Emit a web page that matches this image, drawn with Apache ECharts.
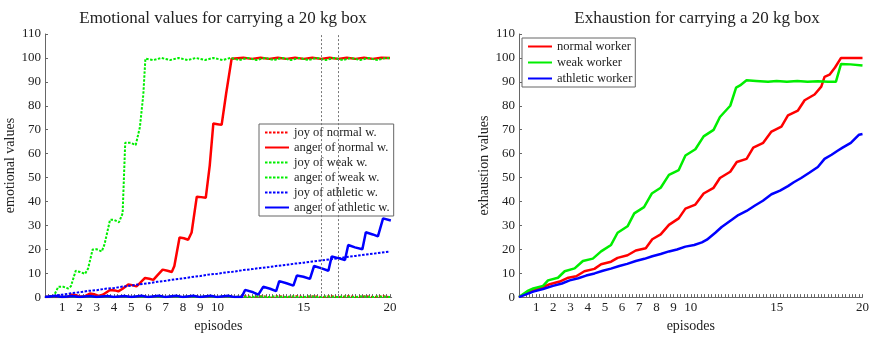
<!DOCTYPE html>
<html>
<head>
<meta charset="utf-8">
<script src="https://cdn.jsdelivr.net/npm/echarts@6/dist/echarts.min.js"></script>
<style>html,body{margin:0;padding:0;background:#fff}#c{width:872px;height:338px}</style>
</head>
<body>
<div id="c"></div>
<script>
// ---- tick labels ----
const xLabelValues = [1,2,3,4,5,6,7,8,9,10,15,20];
const yTickMax = 110;
const markEpisodes = [16, 17];

// ---- left chart: emotional values [episode, value] ----
const joyNormal = [[0,0],[0.6,0.4],[1,0],[1.6,0.4],[2,0],[2.6,0.4],[3,0],[3.6,0.4],[4,0],[4.6,0.4],[5,0],[5.6,0.4],[6,0],[6.6,0.4],[7,0],[7.6,0.4],[8,0],[8.6,0.4],[9,0],[9.6,0.4],[10,0],[10.6,0.4],[11,0],[11.6,0.4],[12,0],[12.6,0.4],[13,0],[13.6,0.4],[14,0],[14.6,0.4],[15,0],[15.6,0.4],[16,0],[16.6,0.4],[17,0],[17.6,0.4],[18,0],[18.6,0.4],[19,0],[19.6,0.4],[20,0]];
const angerNormal = [[0,0],[1.3,0],[1.55,1],[1.8,0.8],[2.0,0.2],[2.3,0.3],[2.6,1.5],[2.85,1.2],[3.1,0.5],[3.35,1],[3.77,3],[4.05,2.8],[4.25,2.4],[4.5,3.5],[4.83,5.3],[5.05,5],[5.3,4.5],[5.5,5.8],[5.8,8],[6.05,7.7],[6.28,7.2],[6.5,9],[6.82,11.5],[7.1,11],[7.35,10.5],[7.5,13],[7.8,24.9],[8.05,24.6],[8.3,24],[8.5,27],[8.8,42],[9.05,41.8],[9.32,41.5],[9.55,55],[9.76,72.6],[10.0,72.3],[10.24,72],[10.5,85],[10.82,99.7],[11.5,100.1],[12,99.6],[12.5,100.1],[13,99.6],[13.5,100.1],[14,99.6],[14.5,100.1],[15,99.6],[15.5,100.1],[16,99.6],[16.5,100.1],[17,99.6],[17.5,100.1],[18,99.6],[18.5,100.1],[19,99.6],[19.5,100.1],[20,100]];
const joyWeak = [[0,0],[0.3,0.3],[1,0],[1.3,0.3],[2,0],[2.3,0.3],[3,0],[3.3,0.3],[4,0],[4.3,0.3],[5,0],[5.3,0.3],[6,0],[6.3,0.3],[7,0],[7.3,0.3],[8,0],[8.3,0.3],[9,0],[9.3,0.3],[10,0],[10.3,0.3],[11,0],[11.3,0.3],[12,0],[12.3,0.3],[13,0],[13.3,0.3],[14,0],[14.3,0.3],[15,0],[15.3,0.3],[16,0],[16.3,0.3],[17,0],[17.3,0.3],[18,0],[18.3,0.3],[19,0],[19.3,0.3],[20,0]];
const angerWeak = [[0,0],[0.48,0],[0.77,4.3],[1.06,4.3],[1.35,3.6],[1.5,4.5],[1.78,11],[2.03,10.5],[2.32,9.7],[2.5,12],[2.76,19.9],[2.99,20],[3.29,19.1],[3.45,22],[3.77,32.3],[4.0,32.3],[4.29,31.3],[4.5,35],[4.65,64.5],[4.97,64.5],[5.26,63.6],[5.5,71],[5.7,84.7],[5.82,99.7],[6.28,99.1],[6.75,100],[7.25,99.1],[7.75,100],[8.27,99.1],[8.75,100],[9.28,99.1],[9.75,100],[10.3,99.1],[10.75,100],[11.27,99.1],[11.75,100],[12.27,99.1],[12.75,100],[13.27,99.1],[13.75,100],[14.27,99.1],[14.75,100],[15.27,99.1],[15.75,100],[16.27,99.1],[16.75,100],[17.27,99.1],[17.75,100],[18.27,99.1],[18.75,100],[19.27,99.1],[19.75,100],[20,99.8]];
const joyAthletic = [[0,0],[0.5,0.6],[1,1.0],[1.5,1.6],[2,2.0],[2.5,2.6],[3,2.9],[3.5,3.5],[4,3.8],[4.5,4.4],[5,4.8],[5.5,5.4],[6,5.8],[6.5,6.4],[7,6.8],[7.5,7.4],[8,7.8],[8.5,8.4],[9,8.8],[9.5,9.4],[10,9.8],[10.5,10.3],[11,10.7],[11.5,11.3],[12,11.7],[12.5,12.2],[13,12.6],[13.5,13.1],[14,13.5],[14.5,14.0],[15,14.4],[15.5,14.9],[16,15.3],[16.5,15.8],[17,16.2],[17.5,16.8],[18,17.2],[18.5,17.7],[19,18.1],[19.5,18.6],[20,19.0]];
const angerAthletic = [[0,0],[0.6,0.5],[1,0],[1.6,0.5],[2,0],[2.6,0.5],[3,0],[3.6,0.5],[4,0],[4.6,0.5],[5,0],[5.6,0.6],[6,0],[6.6,0.6],[7,0],[7.6,0.6],[8,0],[8.6,0.6],[9,0],[9.6,0.6],[10,0],[10.6,0.6],[11,0],[11.4,0],[11.6,3],[12.07,2],[12.37,1],[12.65,4.3],[13.05,3.5],[13.4,2.5],[13.58,6.7],[14.0,5.8],[14.4,4.8],[14.6,9],[14.98,8.5],[15.36,7.6],[15.6,13],[16.04,12],[16.43,11],[16.62,17],[17.0,16.3],[17.39,15.5],[17.58,21.8],[17.97,20.8],[18.4,20],[18.6,27.1],[19.0,26.2],[19.3,25.4],[19.6,32.9],[20.05,32]];

// ---- right chart: exhaustion values [episode, value] ----
const exNormal = [[0,0],[0.63,2.3],[1.21,3.6],[1.79,5.4],[2.37,6.5],[2.87,8.1],[3.33,8.7],[3.81,10.8],[4.39,11.8],[4.78,13.7],[5.36,14.8],[5.74,16.4],[6.32,17.5],[6.8,19.5],[7.38,20.4],[7.76,24.2],[8.25,26.2],[8.73,30.2],[9.3,32.9],[9.69,37],[10.27,38.7],[10.75,43.3],[11.33,45.7],[11.7,49.8],[12.3,52.4],[12.68,56.5],[13.25,57.8],[13.64,62.5],[14.22,64.5],[14.7,69.2],[15.28,71.3],[15.66,76],[16.24,78],[16.63,82.3],[17.21,84.7],[17.6,88],[17.79,92.1],[18.08,93],[18.4,96],[18.75,100],[20,100]];
const exWeak = [[0,0],[0.54,2.7],[0.83,3.6],[1.4,4.7],[1.69,7],[2.27,8.1],[2.66,10.8],[3.24,12],[3.72,15.1],[4.3,16.1],[4.78,19.1],[5.36,21.8],[5.74,26.9],[6.32,29.6],[6.71,35],[7.28,37.6],[7.73,43.3],[8.25,45.7],[8.73,51.1],[9.3,53.1],[9.69,59.2],[10.27,61.8],[10.75,67.2],[11.33,69.9],[11.7,75.3],[12.3,80],[12.64,87.6],[12.87,88.5],[13.25,90.7],[13.8,90.4],[14.5,90],[15,90.3],[15.6,90],[16.2,90.3],[16.8,90],[17.4,90.2],[18.0,90],[18.45,90],[18.75,97.5],[19.3,97.3],[20,96.8]];
const exAthletic = [[0,0],[0.83,2.3],[1.4,3.4],[1.98,4.7],[2.5,5.7],[2.95,7],[3.45,7.9],[3.91,9],[4.4,9.9],[4.88,11],[5.35,11.9],[5.84,13],[6.3,13.9],[6.8,15.1],[7.3,16],[7.76,17.1],[8.25,18],[8.73,19.1],[9.2,19.9],[9.69,21.1],[10.2,21.8],[10.65,22.9],[10.94,24],[11.43,26.9],[11.8,29.3],[12.39,32.3],[12.77,34.3],[13.25,36],[13.74,38.3],[14.2,40.3],[14.7,43],[15.2,44.5],[15.66,46.4],[16.0,48],[16.43,49.8],[16.9,52],[17.4,54.4],[17.79,57.8],[18.2,59.5],[18.55,61.2],[18.84,62.5],[19.32,64.5],[19.8,67.9],[20,68.2]];

const RED = '#ff0000', GREEN = '#00ee00', BLUE = '#0000ff';
const FONT = 'Liberation Serif';
const AXC = '#666';

const minorTicks = [];
for (let i = 0; i <= 100; i++) minorTicks.push(+(i * 0.2).toFixed(1));

function xAxisDef(gi, max) {
  return {
    gridIndex: gi, type: 'value', min: 0, max: max,
    name: 'episodes', nameLocation: 'middle', nameGap: 17,
    nameTextStyle: { fontFamily: FONT, fontSize: 14, color: '#222' },
    axisLine: { show: true, lineStyle: { color: AXC, width: 1 } },
    axisTick: { show: true, inside: true, length: 3, customValues: minorTicks, lineStyle: { color: AXC } },
    axisLabel: { customValues: xLabelValues, fontFamily: FONT, fontSize: 13, color: '#222', margin: 4 },
    splitLine: { show: false }
  };
}
function yAxisDef(gi, name, gap) {
  return {
    gridIndex: gi, type: 'value', min: 0, max: yTickMax, interval: 10,
    name: name, nameLocation: 'middle', nameGap: gap,
    nameTextStyle: { fontFamily: FONT, fontSize: 14, color: '#222' },
    axisLine: { show: true, lineStyle: { color: AXC, width: 1 } },
    axisTick: { show: true, inside: true, length: 3, lineStyle: { color: AXC } },
    axisLabel: { fontFamily: FONT, fontSize: 13, color: '#222', margin: 4 },
    splitLine: { show: false }
  };
}
function line(name, data, color, type, width, gi) {
  return {
    name: name, type: 'line', data: data, xAxisIndex: gi, yAxisIndex: gi,
    showSymbol: false, symbol: 'none', smooth: false,
    lineStyle: { color: color, width: width, type: type },
    itemStyle: { color: color }
  };
}
const DOT = [2.5, 1.5];

const s0 = line('joy of normal w.', joyNormal, RED, DOT, 2, 0);
s0.markLine = {
  silent: true, symbol: ['none', 'none'], label: { show: false },
  lineStyle: { color: '#777', type: [2, 2], width: 1 },
  data: markEpisodes.map(v => ({ xAxis: v }))
};

const legendBase = {
  orient: 'vertical', itemWidth: 24, itemHeight: 12,
  borderColor: '#666', borderWidth: 1, backgroundColor: '#fff',
  itemStyle: { opacity: 0 },
  textStyle: { fontFamily: FONT, fontSize: 12.5, color: '#222' }
};

const option = {
  animation: false,
  backgroundColor: '#fff',
  title: [
    { text: 'Emotional values for carrying a 20 kg box', left: 218, top: 5, textAlign: 'center',
      textStyle: { fontFamily: FONT, fontSize: 17, fontWeight: 'normal', color: '#222' } },
    { text: 'Exhaustion for carrying a 20 kg box', left: 692, top: 5, textAlign: 'center',
      textStyle: { fontFamily: FONT, fontSize: 17, fontWeight: 'normal', color: '#222' } }
  ],
  grid: [
    { left: 45, top: 34, width: 346.7, height: 273 },
    { left: 519, top: 34, width: 346, height: 273 }
  ],
  xAxis: [xAxisDef(0, 20.1), xAxisDef(1, 20)],
  yAxis: [yAxisDef(0, 'emotional values', 25), yAxisDef(1, 'exhaustion values', 25)],
  legend: [
    Object.assign({}, legendBase, { left: 259, top: 124, padding: [2, 4, 2, 5], itemGap: 2,
      data: ['joy of normal w.', 'anger of normal w.', 'joy of weak w.', 'anger of weak w.', 'joy of athletic w.', 'anger of athletic w.'] }),
    Object.assign({}, legendBase, { left: 522, top: 38, padding: [2, 3, 2, 5], itemGap: 3,
      data: ['normal worker', 'weak worker', 'athletic worker'] })
  ],
  series: [
    s0,
    line('anger of normal w.', angerNormal, RED, 'solid', 2.5, 0),
    line('joy of weak w.', joyWeak, GREEN, DOT, 2, 0),
    line('anger of weak w.', angerWeak, GREEN, DOT, 2, 0),
    line('joy of athletic w.', joyAthletic, BLUE, DOT, 2, 0),
    line('anger of athletic w.', angerAthletic, BLUE, 'solid', 2.5, 0),
    line('normal worker', exNormal, RED, 'solid', 2.5, 1),
    line('weak worker', exWeak, GREEN, 'solid', 2.5, 1),
    line('athletic worker', exAthletic, BLUE, 'solid', 2.5, 1)
  ]
};
const chart = echarts.init(document.getElementById('c'), null, { renderer: 'canvas' });
chart.setOption(option);
</script>
</body>
</html>
